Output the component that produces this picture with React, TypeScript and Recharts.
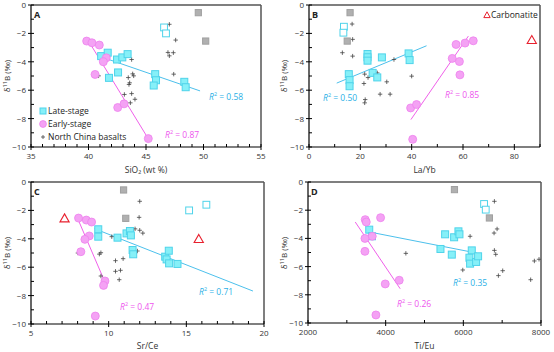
import React from 'react';
import { ScatterChart, Scatter, XAxis, YAxis, ReferenceLine } from 'recharts';

type Pt = [number, number];

// Panel A: SiO2
const A_LATE: Pt[] = [[41.1, -3.6], [41.67, -3.36], [41.78, -5.13], [42.48, -3.84], [42.57, -4.75], [42.94, -3.69], [43.4, -3.46], [45.8, -4.87], [45.87, -5.3], [45.67, -5.67], [48.33, -5.41], [48.45, -5.79]];
const A_OPEN: Pt[] = [[46.57, -1.58], [46.74, -2.0]];
const A_GRAY: Pt[] = [[49.55, -0.54], [50.19, -2.54]];
const A_EARLY: Pt[] = [[39.84, -2.54], [40.3, -2.66], [40.94, -2.82], [41.55, -3.72], [41.29, -4.0], [40.57, -4.89], [42.54, -7.22], [43.09, -6.96], [45.2, -9.41]];
const A_BASALT: Pt[] = [[47.03, -1.36], [47.58, -2.47], [46.91, -3.34], [47.38, -3.36], [47.03, -3.58], [43.75, -3.84], [47.41, -4.87], [43.84, -4.85], [43.93, -4.99], [40.88, -4.99], [43.46, -5.11], [43.58, -5.48], [43.52, -5.6], [43.12, -6.3], [43.75, -6.24], [44.04, -6.64], [43.64, -6.89]];
const A_FIT_LATE: Pt[] = [[41.09, -3.65], [49.7, -6.05]];
const A_FIT_EARLY: Pt[] = [[39.99, -2.52], [45.14, -9.34]];

// Panel B: La/Yb
const B_LATE: Pt[] = [[15.5, -4.87], [15.8, -5.29], [15.8, -5.72], [22.8, -3.45], [22.8, -3.68], [22.8, -3.92], [28.4, -3.69], [24.8, -4.78], [26.6, -5.1], [38.8, -3.41], [39.2, -3.88]];
const B_OPEN: Pt[] = [[13.6, -1.53], [13.4, -1.95]];
const B_GRAY: Pt[] = [[16.0, -0.54], [14.9, -2.54]];
const B_EARLY: Pt[] = [[39.6, -7.25], [41.9, -7.01], [40.4, -9.46], [55.8, -3.76], [57.3, -2.78], [58.6, -3.98], [58.8, -4.92], [60.8, -2.68], [64.0, -2.52]];
const B_CARB: Pt[] = [[86.8, -2.47]];
const B_BASALT: Pt[] = [[16.8, -1.34], [17.0, -2.42], [13.0, -3.36], [17.0, -3.6], [33.1, -3.84], [40.0, -5.01], [21.7, -4.87], [23.0, -5.11], [26.6, -4.78], [21.4, -5.53], [30.3, -5.41], [27.7, -6.28], [31.6, -6.28], [21.9, -6.66], [21.7, -6.89]];
const B_FIT_LATE: Pt[] = [[10.8, -5.5], [45.8, -2.87]];
const B_FIT_EARLY: Pt[] = [[39.7, -8.07], [62.1, -2.19]];

// Panel C: Sr/Ce
const C_LATE: Pt[] = [[9.33, -3.33], [9.33, -3.85], [10.57, -3.92], [11.15, -3.62], [11.37, -3.45], [11.43, -3.76], [11.54, -4.79], [11.58, -5.09], [13.64, -5.26], [13.73, -5.45], [13.87, -4.84], [13.89, -5.73], [14.43, -5.77]];
const C_OPEN: Pt[] = [[15.18, -2.0], [16.29, -1.6]];
const C_GRAY: Pt[] = [[10.96, -0.56], [11.1, -2.56]];
const C_EARLY: Pt[] = [[8.06, -2.54], [8.56, -2.68], [8.9, -2.82], [8.75, -3.8], [8.47, -4.04], [8.21, -4.91], [9.76, -6.97], [9.67, -7.28], [9.14, -9.44]];
const C_CARB: Pt[] = [[7.16, -2.56], [15.8, -4.01]];
const C_BASALT: Pt[] = [[12.0, -1.36], [11.96, -2.49], [11.7, -3.3], [12.0, -3.4], [12.2, -3.6], [10.2, -3.85], [8.02, -5.0], [9.4, -5.08], [9.5, -4.98], [11.85, -4.86], [10.44, -5.54], [10.93, -5.4], [10.44, -6.29], [10.76, -6.22], [10.68, -6.88], [9.5, -6.62]];
const C_FIT_LATE: Pt[] = [[9.09, -3.29], [19.29, -7.68]];
const C_FIT_EARLY: Pt[] = [[8.09, -2.79], [9.82, -7.2]];

// Panel D: Ti/Eu
const D_LATE: Pt[] = [[3577, -3.38], [3646, -3.85], [5411, -4.75], [5531, -3.71], [5703, -5.15], [5763, -3.92], [5874, -3.5], [5900, -3.71], [6217, -4.85], [6157, -5.37], [6174, -5.79], [6329, -5.67], [6380, -5.27]];
const D_OPEN: Pt[] = [[6534, -1.56], [6577, -1.96]];
const D_GRAY: Pt[] = [[5771, -0.54], [6671, -2.55]];
const D_EARLY: Pt[] = [[3474, -2.67], [3500, -2.84], [3869, -2.53], [3654, -3.85], [3466, -4.0], [3466, -4.92], [3989, -7.23], [4349, -6.97], [3749, -9.43]];
const D_BASALT: Pt[] = [[6800, -1.37], [6869, -3.33], [6791, -3.62], [6174, -3.85], [6800, -4.85], [6834, -5.13], [4520, -5.06], [5986, -6.24], [7014, -6.29], [6903, -6.64], [7734, -6.93], [7829, -5.6], [7949, -5.48]];
const D_FIT_LATE: Pt[] = [[3500, -3.5], [6346, -5.04]];
const D_FIT_EARLY: Pt[] = [[3217, -2.84], [4374, -7.57]];

const Y_TICKS = [-10, -9, -8, -7, -6, -5, -4, -3, -2, -1, 0];

const FONT = '"Open Sans", "Noto Sans", sans-serif';
const CYAN_FILL = '#86F0F8';
const CYAN_EDGE = '#4FD3EA';
const CYAN_LINE = '#4CC0EC';
const CYAN_TEXT = '#2BB0E6';
const PINK_FILL = '#F4A2F4';
const PINK_EDGE = '#EE82EE';
const PINK_LINE = '#F060EA';
const PINK_TEXT = '#EE55EE';
const RED = '#E8202E';

const toObj = (a: Pt[]) => a.map(([x, y]) => ({ x, y }));
const toSeg = (a: Pt[]) => a.map(([x, y]) => ({ x, y }));

const square = (fill: string, stroke: string, s: number) => (p: any) => (
    <rect x={p.cx - s / 2} y={p.cy - s / 2} width={s} height={s} fill={fill} stroke={stroke} strokeWidth={1} />
);
const circle = (p: any) => <circle cx={p.cx} cy={p.cy} r={4} fill={PINK_FILL} stroke={PINK_EDGE} strokeWidth={0.8} />;
const cross = (p: any) => (
    <g stroke="#444" strokeWidth={0.8}>
        <line x1={p.cx - 2.2} x2={p.cx + 2.2} y1={p.cy} y2={p.cy} />
        <line x1={p.cx} x2={p.cx} y1={p.cy - 2.2} y2={p.cy + 2.2} />
    </g>
);
const triangle = (p: any) => (
    <path d={`M${p.cx},${p.cy - 4.5} L${p.cx + 4.6},${p.cy + 3.5} L${p.cx - 4.6},${p.cy + 3.5} Z`} fill="none" stroke={RED} strokeWidth={1.1} />
);

const minus = (v: number) => (v < 0 ? '\u2212' + Math.abs(v) : String(v));

interface PanelProps {
    letter: string;
    xDomain: [number, number];
    xTicks: number[];
    xMajor: number;
    xLabel: React.ReactNode;
    yw: number;
    top: number;
    right: number;
    xh: number;
    late: Pt[];
    open: Pt[];
    gray: Pt[];
    early: Pt[];
    basalt: Pt[];
    carb?: Pt[];
    fitLate: Pt[];
    fitEarly: Pt[];
    children?: React.ReactNode;
}

const W = 277;
const H = 176;

const Panel: React.FC<PanelProps> = (p) => {
    const plotBottom = H - p.xh;
    const plotLeft = p.yw;
    const YTick = (t: any) => {
        const v = t.payload.value;
        const major = v % 2 === 0;
        return (
            <g>
                <line x1={major ? plotLeft - 3 : plotLeft} x2={plotLeft + 3} y1={t.y} y2={t.y} stroke="#000" strokeWidth={1} />
                {major && (
                    <text x={plotLeft - 5} y={t.y} dy={3} textAnchor="end" fontSize={8} fill="#333" fontFamily={FONT}>
                        {minus(v)}
                    </text>
                )}
            </g>
        );
    };
    const XTick = (t: any) => {
        const v = t.payload.value;
        const major = (v - p.xDomain[0]) % p.xMajor === 0;
        return (
            <g>
                <line x1={t.x} x2={t.x} y1={plotBottom - 3} y2={major ? plotBottom + 3 : plotBottom} stroke="#000" strokeWidth={1} />
                {major && (
                    <text x={t.x} y={plotBottom + 12} textAnchor="middle" fontSize={8} fill="#333" fontFamily={FONT}>
                        {v}
                    </text>
                )}
            </g>
        );
    };
    return (
        <div style={{ position: 'relative', width: W, height: H }}>
            <ScatterChart width={W} height={H} margin={{ top: p.top, right: p.right, bottom: 0, left: 0 }}>
                <XAxis type="number" dataKey="x" domain={p.xDomain} ticks={p.xTicks} allowDataOverflow interval={0}
                    height={p.xh} tickLine={false} tick={XTick} axisLine={{ stroke: '#000', strokeWidth: 1.2 }} />
                <YAxis type="number" dataKey="y" domain={[-10, 0]} ticks={Y_TICKS} allowDataOverflow interval={0}
                    width={p.yw} tickLine={false} tick={YTick} axisLine={{ stroke: '#000', strokeWidth: 1.2 }} />
                <ReferenceLine y={0} stroke="#555" strokeWidth={1.5} />
                <ReferenceLine x={p.xDomain[1]} stroke="#555" strokeWidth={1.5} />
                <ReferenceLine segment={toSeg(p.fitLate)} stroke={CYAN_LINE} strokeWidth={1} />
                <ReferenceLine segment={toSeg(p.fitEarly)} stroke={PINK_LINE} strokeWidth={1} />
                <Scatter data={toObj(p.basalt)} shape={cross} isAnimationActive={false} />
                <Scatter data={toObj(p.gray)} shape={square('#B0B0B0', '#A0A0A0', 6.2)} isAnimationActive={false} />
                <Scatter data={toObj(p.open)} shape={square('#FFFFFF', CYAN_EDGE, 6.8)} isAnimationActive={false} />
                <Scatter data={toObj(p.late)} shape={square(CYAN_FILL, CYAN_EDGE, 7)} isAnimationActive={false} />
                <Scatter data={toObj(p.early)} shape={circle} isAnimationActive={false} />
                {p.carb && <Scatter data={toObj(p.carb)} shape={triangle} isAnimationActive={false} />}
            </ScatterChart>
            <Txt x={plotLeft + 3} y={p.top + 9} bold size={9}>{p.letter}</Txt>
            <div style={{
                position: 'absolute', left: 7, top: p.top + (plotBottom - p.top) / 2, fontFamily: FONT, fontSize: 8,
                color: '#333', transform: 'translate(-50%, -50%) rotate(-90deg)', whiteSpace: 'nowrap', lineHeight: 1,
            }}>
                δ<sup style={{ fontSize: 5.5 }}>11</sup>B (‰)
            </div>
            <div style={{
                position: 'absolute', left: plotLeft + (W - p.right - plotLeft) / 2, top: H - 6, fontFamily: FONT, fontSize: 8.5,
                color: '#333', transform: 'translate(-50%, -50%)', whiteSpace: 'nowrap', lineHeight: 1,
            }}>
                {p.xLabel}
            </div>
            {p.children}
        </div>
    );
};

const Txt: React.FC<{ x: number; y: number; color?: string; size?: number; bold?: boolean; children: React.ReactNode }> = ({ x, y, color = '#222', size = 8.5, bold, children }) => (
    <div style={{
        position: 'absolute', left: x, top: y, transform: 'translateY(-50%)', fontFamily: FONT, fontSize: size,
        fontWeight: bold ? 700 : 400, color, whiteSpace: 'nowrap', lineHeight: 1,
    }}>
        {children}
    </div>
);

const R2: React.FC<{ x: number; y: number; color: string; value: string }> = ({ x, y, color, value }) => (
    <Txt x={x} y={y} color={color} size={8.5}>
        <i>R</i><sup style={{ fontSize: 5.5 }}>2</sup> = {value}
    </Txt>
);

const LegendMark: React.FC<{ x: number; y: number; kind: string }> = ({ x, y, kind }) => (
    <svg style={{ position: 'absolute', left: x - 5, top: y - 5 }} width={10} height={10}>
        {kind === 'square' && <rect x={2} y={2} width={6} height={6} fill={CYAN_FILL} stroke={CYAN_EDGE} />}
        {kind === 'circle' && <circle cx={5} cy={5} r={3.4} fill={PINK_FILL} stroke={PINK_EDGE} strokeWidth={0.8} />}
        {kind === 'cross' && (
            <g stroke="#444" strokeWidth={0.8}>
                <line x1={3} x2={7} y1={5} y2={5} />
                <line x1={5} x2={5} y1={3} y2={7} />
            </g>
        )}
        {kind === 'tri' && <path d="M5,1.8 L8.2,7.6 L1.8,7.6 Z" fill="none" stroke={RED} strokeWidth={1} />}
    </svg>
);

const range = (a: number, b: number, s: number) => {
    const out: number[] = [];
    for (let v = a; v <= b + 1e-9; v += s) out.push(v);
    return out;
};

export default function App() {
    return (
        <div style={{ position: 'absolute', left: 0, top: 0, width: 554, height: 352, background: '#fff', display: 'grid', gridTemplateColumns: '277px 277px' }}>
            <Panel letter="A" xDomain={[35, 55]} xTicks={range(35, 55, 1)} xMajor={5} xLabel={<span>SiO₂ (wt %)</span>}
                yw={31} top={5} right={16} xh={29}
                late={A_LATE} open={A_OPEN} gray={A_GRAY} early={A_EARLY} basalt={A_BASALT}
                fitLate={A_FIT_LATE} fitEarly={A_FIT_EARLY}>
                <R2 x={209} y={97} color={CYAN_TEXT} value="0.58" />
                <R2 x={165} y={135} color={PINK_TEXT} value="0.87" />
                <LegendMark x={43} y={111} kind="square" />
                <Txt x={48} y={111}>Late-stage</Txt>
                <LegendMark x={43} y={124} kind="circle" />
                <Txt x={48} y={124}>Early-stage</Txt>
                <LegendMark x={43} y={137} kind="cross" />
                <Txt x={48} y={137}>North China basalts</Txt>
            </Panel>
            <Panel letter="B" xDomain={[0, 90]} xTicks={range(0, 90, 10)} xMajor={20} xLabel={<span>La/Yb</span>}
                yw={32} top={5} right={14} xh={29}
                late={B_LATE} open={B_OPEN} gray={B_GRAY} early={B_EARLY} basalt={B_BASALT} carb={B_CARB}
                fitLate={B_FIT_LATE} fitEarly={B_FIT_EARLY}>
                <R2 x={46} y={98} color={CYAN_TEXT} value="0.50" />
                <R2 x={168} y={95} color={PINK_TEXT} value="0.85" />
                <LegendMark x={210} y={15} kind="tri" />
                <Txt x={214} y={15}>Carbonatite</Txt>
            </Panel>
            <Panel letter="C" xDomain={[5, 20]} xTicks={range(5, 20, 1)} xMajor={5} xLabel={<span>Sr/Ce</span>}
                yw={31} top={6} right={13} xh={28}
                late={C_LATE} open={C_OPEN} gray={C_GRAY} early={C_EARLY} basalt={C_BASALT} carb={C_CARB}
                fitLate={C_FIT_LATE} fitEarly={C_FIT_EARLY}>
                <R2 x={199} y={116} color={CYAN_TEXT} value="0.71" />
                <R2 x={120} y={131} color={PINK_TEXT} value="0.47" />
            </Panel>
            <Panel letter="D" xDomain={[2000, 8000]} xTicks={range(2000, 8000, 1000)} xMajor={2000} xLabel={<span>Ti/Eu</span>}
                yw={31} top={6} right={13} xh={29}
                late={D_LATE} open={D_OPEN} gray={D_GRAY} early={D_EARLY} basalt={D_BASALT}
                fitLate={D_FIT_LATE} fitEarly={D_FIT_EARLY}>
                <R2 x={176} y={107} color={CYAN_TEXT} value="0.35" />
                <R2 x={120} y={128} color={PINK_TEXT} value="0.26" />
            </Panel>
        </div>
    );
}
